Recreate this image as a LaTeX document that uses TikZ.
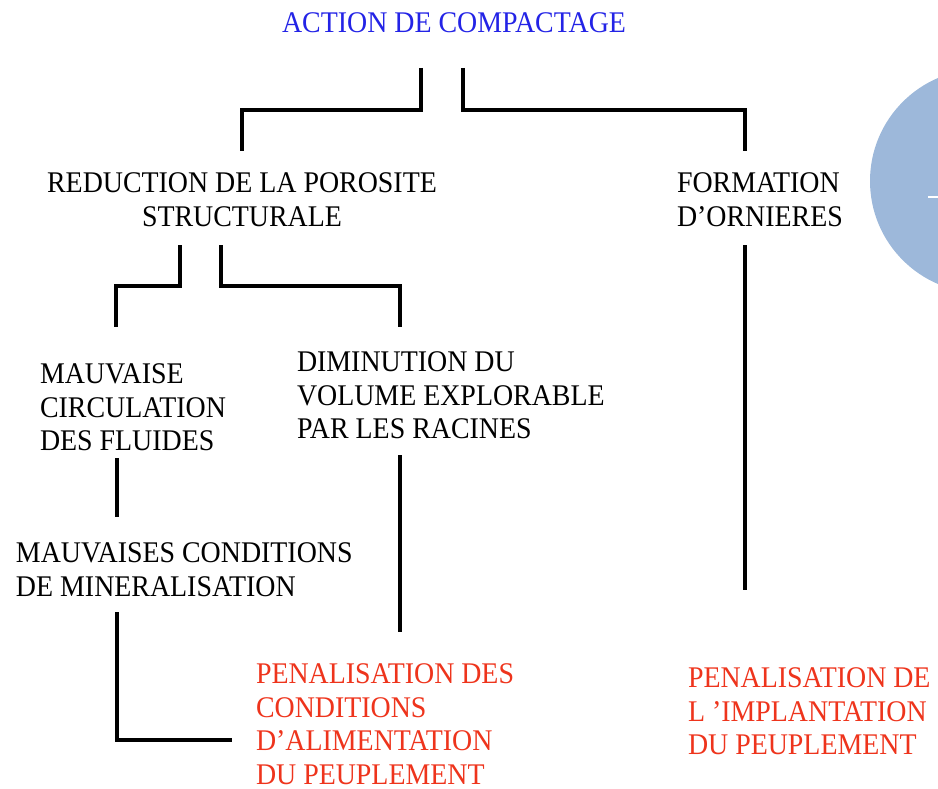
\documentclass[tikz,border=0pt]{standalone}
\usepackage{fontspec}
\setmainfont{Liberation Serif}[FakeStretch=0.93]
\usepackage{tikz}
\usetikzlibrary{positioning}
\definecolor{titleblue}{RGB}{35,35,230}
\definecolor{effectred}{RGB}{238,52,28}
\definecolor{discblue}{RGB}{157,184,218}

\begin{document}
\begin{tikzpicture}[x=1pt,y=1pt,
		lbl/.style={inner sep=0pt,outer sep=0pt,font=\fontsize{30}{33.5}\selectfont,anchor=north west,align=left},
		effect/.style={lbl,text=effectred},
		link/.style={line width=4.6pt,black}]
				\useasboundingbox (0,0) rectangle (938,-789);
				\clip (0,0) rectangle (938,-789);
				\fill[discblue] (982,-181) circle (112);
				\draw[white,line width=1.4pt] (928,-197) -- (938,-197);
				\node[lbl,anchor=north,text=titleblue] (action) at (454,-13) {ACTION DE COMPACTAGE};
				\node[lbl,anchor=north,align=center] (reduc) at (242,-173) {REDUCTION DE LA POROSITE\\STRUCTURALE};
				\node[lbl] (ornieres) at (677,-173) {FORMATION\\D'ORNIERES};
				\node[lbl] (fluides) at (40,-364) {MAUVAISE\\CIRCULATION\\DES FLUIDES};
				\node[lbl] (volume) at (297,-352) {DIMINUTION DU\\VOLUME EXPLORABLE\\PAR LES RACINES};
				\node[lbl] (mineral) at (16,-543) {MAUVAISES CONDITIONS\\DE MINERALISATION};
				\node[effect] (alim) at (256,-664) {PENALISATION DES\\CONDITIONS\\D'ALIMENTATION\\DU PEUPLEMENT};
				\node[effect] (implant) at (688,-668) {PENALISATION DE\\L 'IMPLANTATION\\DU PEUPLEMENT};
				\draw[link] ([xshift=-33pt,yshift=-55pt]action.north) |- ([yshift=63pt]reduc.north) -- ([yshift=22pt]reduc.north);
				\draw[link] ([xshift=9pt,yshift=-55pt]action.north) |- ([xshift=68pt,yshift=63pt]ornieres.north west) -- ([xshift=68pt,yshift=22pt]ornieres.north west);
				\draw[link] ([xshift=-62pt,yshift=-72pt]reduc.north) |- ([xshift=76pt,yshift=78pt]fluides.north west) -- ([xshift=76pt,yshift=37pt]fluides.north west);
				\draw[link] ([xshift=-21pt,yshift=-72pt]reduc.north) |- ([xshift=103pt,yshift=66pt]volume.north west) -- ([xshift=103pt,yshift=25pt]volume.north west);
				\draw[link] ([xshift=77pt,yshift=-94pt]fluides.north west) -- ([xshift=101pt,yshift=26pt]mineral.north west);
				\draw[link] ([xshift=101pt,yshift=-69pt]mineral.north west) |- ([xshift=-24pt,yshift=-76pt]alim.north west);
				\draw[link] ([xshift=103pt,yshift=-103pt]volume.north west) -- ([xshift=144pt,yshift=32pt]alim.north west);
				\draw[link] ([xshift=68pt,yshift=-72pt]ornieres.north west) -- ([xshift=57pt,yshift=78pt]implant.north west);
			\end{tikzpicture}
\end{document}
